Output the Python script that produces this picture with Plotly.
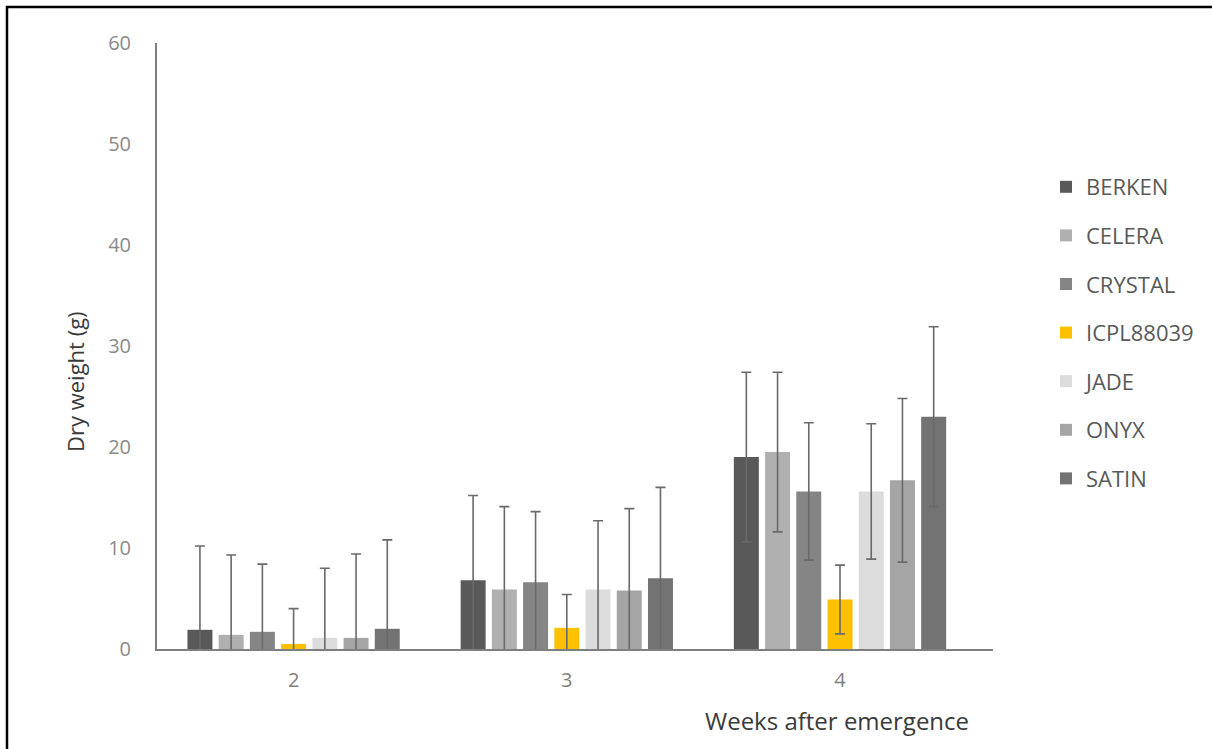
import plotly.graph_objects as go

weeks = ["2", "3", "4"]
varieties = ["BERKEN", "CELERA", "CRYSTAL", "ICPL88039", "JADE", "ONYX", "SATIN"]
colors = ["#595959", "#b0b0b0", "#858585", "#ffc000", "#dcdcdc", "#a5a5a5", "#737373"]

means = {
    "BERKEN":    [1.9, 6.8, 19.0],
    "CELERA":    [1.4, 5.9, 19.5],
    "CRYSTAL":   [1.7, 6.6, 15.6],
    "ICPL88039": [0.5, 2.1, 4.9],
    "JADE":      [1.1, 5.9, 15.6],
    "ONYX":      [1.1, 5.8, 16.7],
    "SATIN":     [2.0, 7.0, 23.0],
}
errors = {
    "BERKEN":    [8.3, 8.4, 8.4],
    "CELERA":    [7.9, 8.2, 7.9],
    "CRYSTAL":   [6.7, 7.0, 6.8],
    "ICPL88039": [3.5, 3.3, 3.4],
    "JADE":      [6.9, 6.8, 6.7],
    "ONYX":      [8.3, 8.1, 8.1],
    "SATIN":     [8.8, 9.0, 8.9],
}

FONT = "Open Sans, Liberation Sans, sans-serif"

fig = go.Figure()
for name, col in zip(varieties, colors):
    fig.add_trace(go.Bar(
        name=name,
        x=[0, 1, 2],
        y=means[name],
        marker=dict(color=col, line=dict(width=0)),
        error_y=dict(type="data", array=errors[name], visible=True,
                     color="#6a6a6a", thickness=1.6, width=5),
        legendgroup=name,
    ))

W, H = 1212, 749
L, R, T, B = 157, 219, 43, 100
pw, ph = W - L - R, H - T - B

def px_x(p):
    return (p - L) / pw

def px_y(p):
    return (H - B - p) / ph

fig.update_layout(
    width=W, height=H,
    margin=dict(l=L, r=R, t=T, b=B),
    paper_bgcolor="white", plot_bgcolor="white",
    barmode="group", bargap=0.2, bargroupgap=0.2,
    font=dict(family=FONT, color="#595959"),
    showlegend=True,
    legend=dict(
        x=px_x(1046), y=px_y(166), xanchor="left", yanchor="top",
        font=dict(size=22, color="#595959", family=FONT),
        tracegroupgap=17, itemwidth=30, bgcolor="rgba(0,0,0,0)",
    ),
    xaxis=dict(
        tickmode="array", tickvals=[0, 1, 2], ticktext=weeks,
        range=[-0.5, 2.56],
        showline=True, linecolor="#7f7f7f", linewidth=2,
        ticks="", showgrid=False, zeroline=False,
        tickfont=dict(size=20, color="#7f7f7f", family=FONT),
        ticklabelstandoff=12,
    ),
    yaxis=dict(
        range=[0, 60], tickvals=[0, 10, 20, 30, 40, 50, 60],
        showline=True, linecolor="#7f7f7f", linewidth=2,
        ticks="", showgrid=False, zeroline=False,
        tickfont=dict(size=20, color="#8a8a8a", family=FONT),
        ticklabelstandoff=20,
    ),
    annotations=[
        dict(
            text="Weeks after emergence", xref="paper", yref="paper",
            x=px_x(837), y=px_y(720), xanchor="center", yanchor="middle",
            showarrow=False, font=dict(size=24, color="#3a3a3a", family=FONT),
        ),
        dict(
            text="Dry weight (g)", xref="paper", yref="paper",
            x=px_x(75), y=px_y(382), xanchor="center", yanchor="middle",
            textangle=-90,
            showarrow=False, font=dict(size=22, color="#3a3a3a", family=FONT),
        ),
    ],
    shapes=[dict(
        type="rect", xref="paper", yref="paper",
        x0=px_x(7), x1=px_x(1230), y0=px_y(7), y1=px_y(770),
        line=dict(color="black", width=2.5), fillcolor="rgba(0,0,0,0)", layer="above",
    )],
)

fig.write_html("out.html")
